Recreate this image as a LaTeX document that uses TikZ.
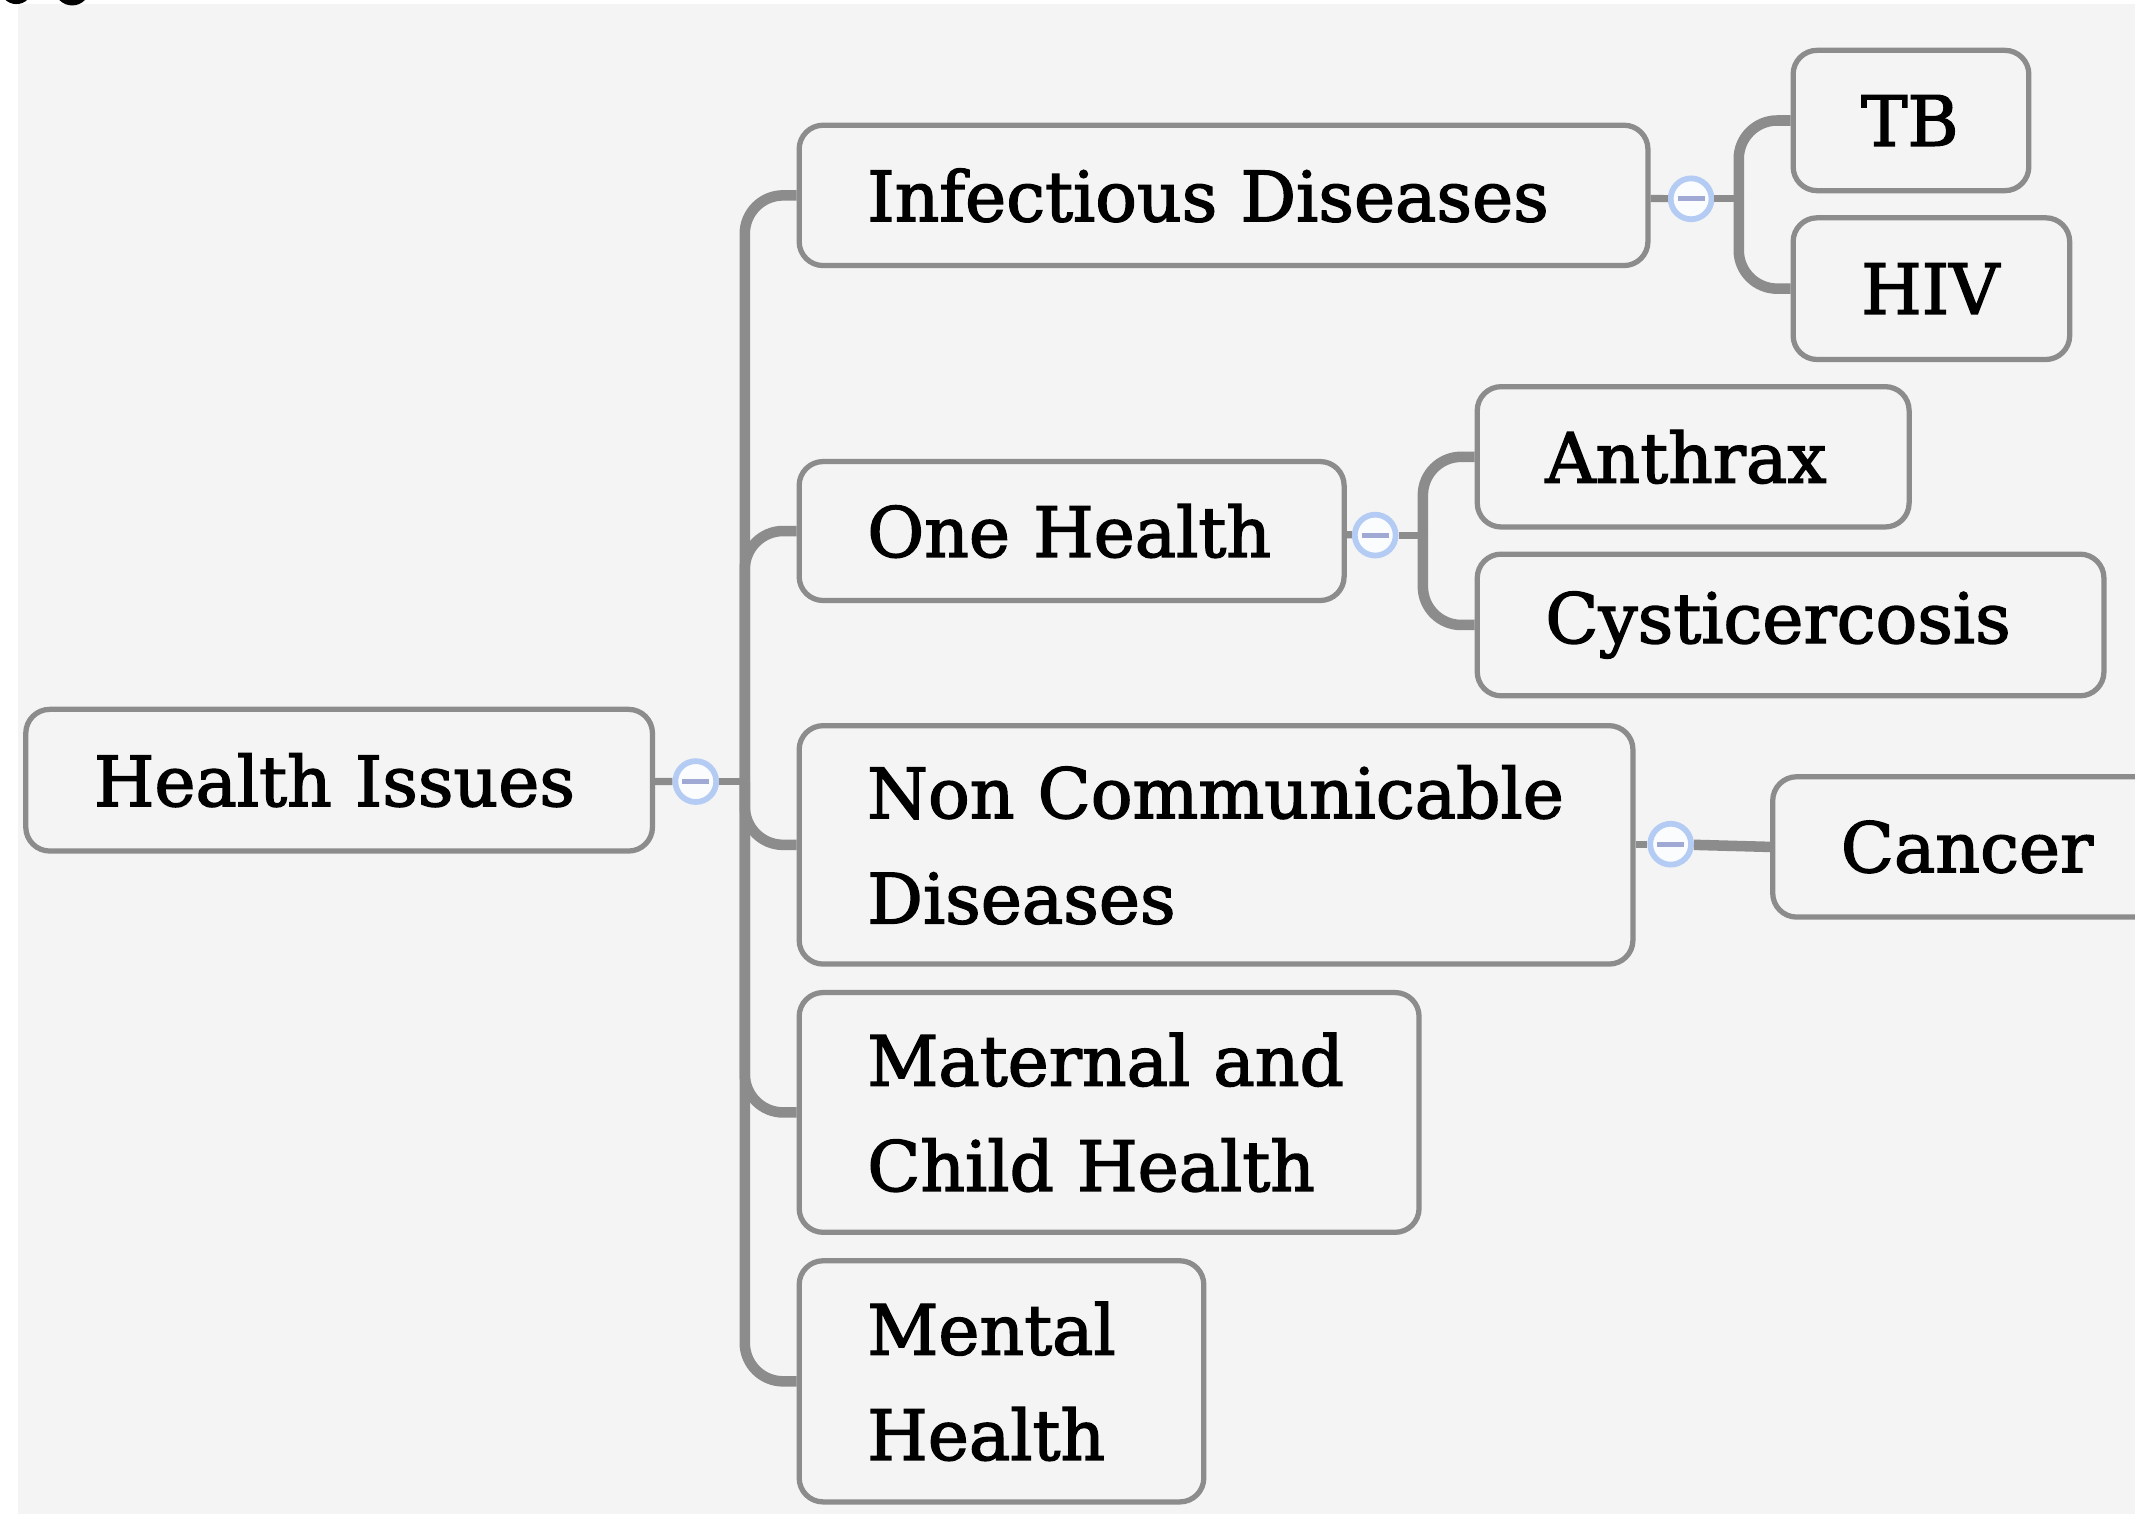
\documentclass[tikz,border=0pt]{standalone}
\usepackage{fontspec}
\setmainfont{DejaVu Serif}
\newfontfamily\topicfont{DejaVu Serif}[FakeBold=2]
\usepackage{tikz}

\definecolor{canvas}{HTML}{F4F4F4}
\definecolor{edgegray}{HTML}{8C8C8C}
\definecolor{ringblue}{HTML}{B4CCF4}
\definecolor{dashblue}{HTML}{A0A8D4}

\begin{document}
\begin{tikzpicture}[x=0.01cm, y=-0.01cm, topic/.style={draw=edgegray, fill=canvas, rounded corners=5, line width=1.1pt, anchor=west, align=left, inner xsep=0.5cm, inner ysep=0pt, font=\topicfont\fontsize{14.5}{22}\selectfont}, fold/.style={circle, draw=ringblue, fill=white!70!ringblue!20, line width=1.2pt, minimum size=0.3cm, inner sep=0pt, path picture={\draw[dashblue, line width=1pt] ([xshift=-2.8pt]path picture bounding box.center) -- ([xshift=2.8pt]path picture bounding box.center);}}, stub/.style={edgegray, line width=1.5pt}, branch/.style={edgegray, line width=2.2pt, rounded corners=8}]
            \useasboundingbox (0,0) rectangle (1568,1115);
            \fill[white] (0,0) rectangle (1568,1115);
            \fill[canvas] (13,3) rectangle (1568,1112);
            \fill[black] (12,-9) circle (12) (53,-9) circle (13);
            % nodes
            \node[topic, text width=3.6cm, minimum height=1.04cm] (health) at (17,573) {Health Issues};
            \node[topic, text width=5.23cm, minimum height=1.03cm] (infect) at (585,143.5) {Infectious Diseases};
            \node[topic, text width=3.0cm, minimum height=1.02cm] (onehealth) at (585,390) {One Health};
            \node[topic, text width=5.12cm, minimum height=1.75cm] (noncomm) at (585,620.5) {Non Communicable\\Diseases};
            \node[topic, text width=3.55cm, minimum height=1.76cm] (maternal) at (585,817) {Maternal and\\Child Health};
            \node[topic, text width=1.97cm, minimum height=1.77cm] (mental) at (585,1014.5) {Mental\\Health};
            \node[topic, text width=0.73cm, minimum height=1.03cm] (tb) at (1315,88.5) {TB};
            \node[topic, text width=1.03cm, minimum height=1.04cm] (hiv) at (1315,212) {HIV};
            \node[topic, text width=2.17cm, minimum height=1.03cm] (anthrax) at (1083,335.5) {Anthrax};
            \node[topic, text width=3.6cm, minimum height=1.04cm] (cysti) at (1083,459) {Cysticercosis};
            \node[topic, text width=2.2cm, minimum height=1.03cm] (cancer) at (1300,622) {Cancer};
            \node[fold] (fold0) at (511,574) {};
            \node[fold] (fold1) at (1242,146) {};
            \node[fold] (fold2) at (1010,393) {};
            \node[fold] (fold3) at (1227,620) {};
            \coordinate (hub0) at (547,574);
            \coordinate (hub1) at (1277,146);
            \coordinate (hub2) at (1045,393);
            % edges
            \draw[stub] (health) -- (fold0);
            \draw[stub] (fold0) -- (hub0);
            \foreach \kid in {infect, onehealth, noncomm, maternal, mental}
                \draw[branch] (hub0) |- (\kid.west);
            \draw[stub] (infect) -- (fold1);
            \draw[stub] (fold1) -- (hub1);
            \foreach \kid in {tb, hiv}
                \draw[branch] (hub1) |- (\kid.west);
            \draw[stub] (onehealth) -- (fold2);
            \draw[stub] (fold2) -- (hub2);
            \foreach \kid in {anthrax, cysti}
                \draw[branch] (hub2) |- (\kid.west);
            \draw[stub] (noncomm.east |- fold3) -- (fold3);
            \draw[branch] (fold3) -- (cancer.west);
        \end{tikzpicture}
\end{document}
